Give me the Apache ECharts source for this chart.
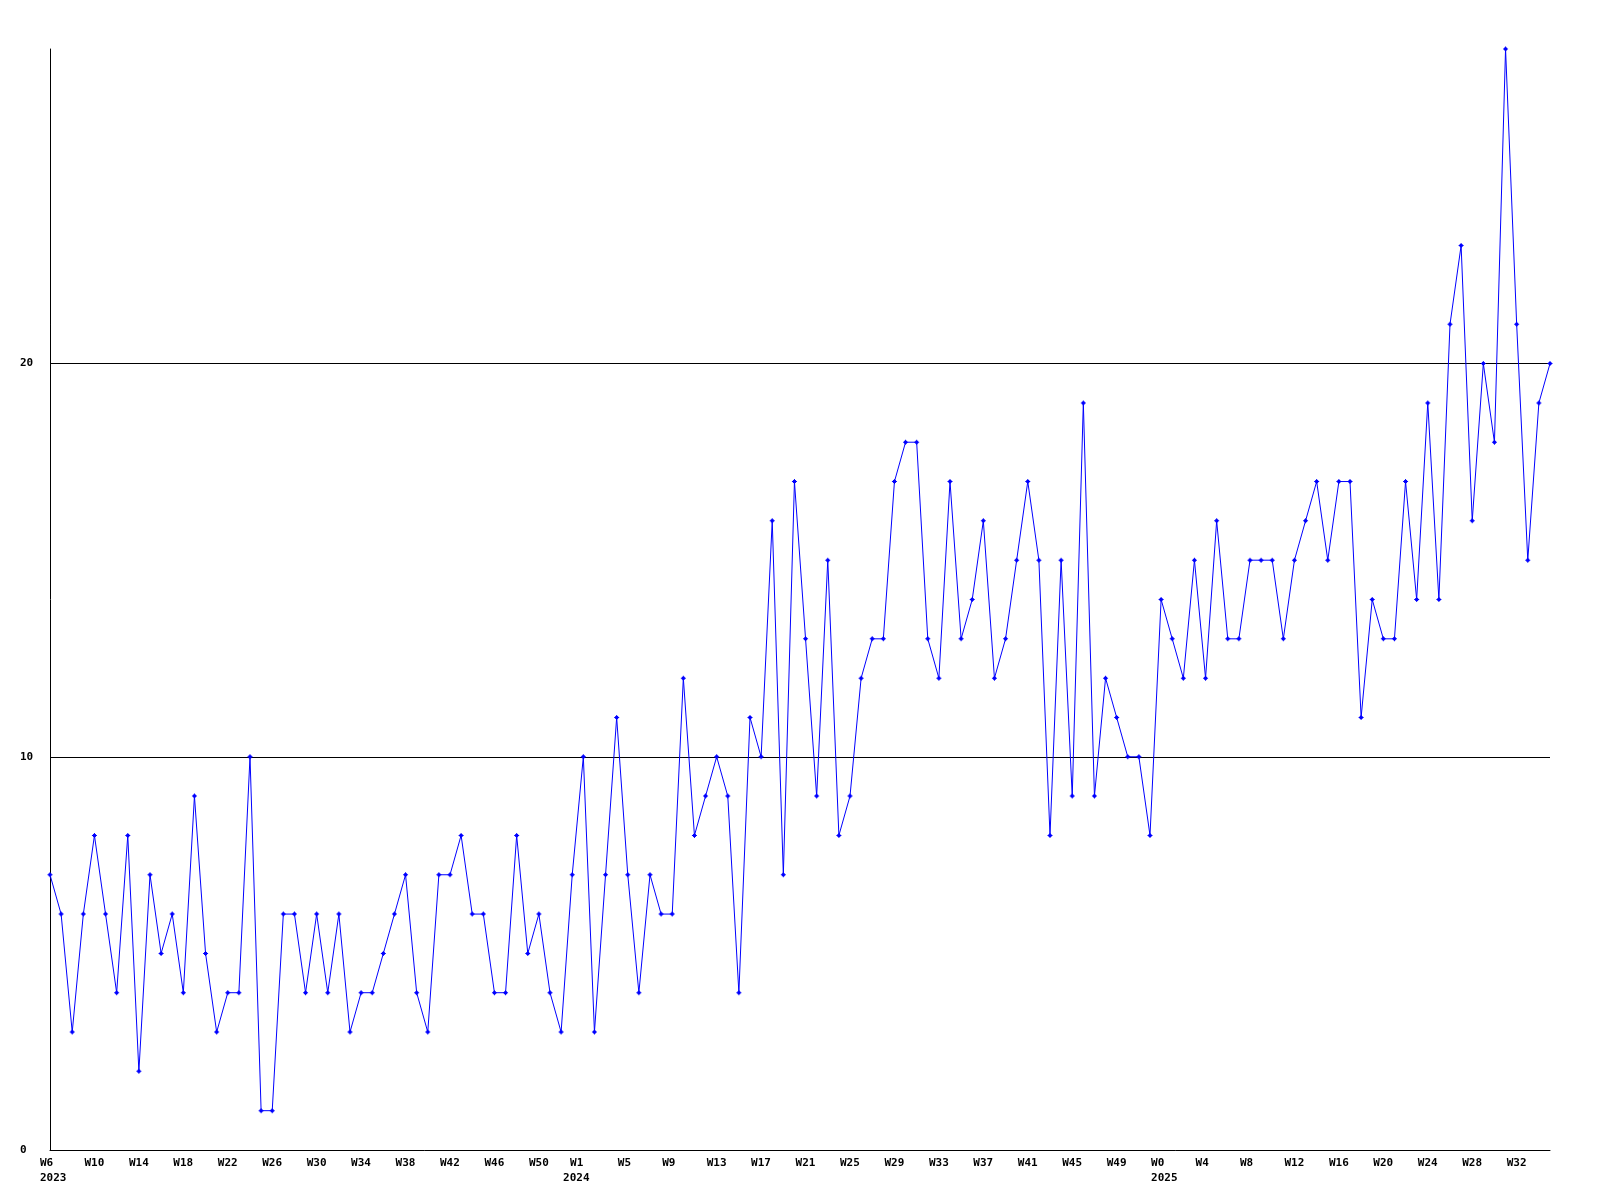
<!DOCTYPE html>
<html>
<head>
<meta charset="utf-8">
<script src="https://cdn.jsdelivr.net/npm/echarts@6/dist/echarts.min.js"></script>
<style>
  html, body { margin: 0; padding: 0; background: #fff; }
  #chart { width: 1600px; height: 1200px; }
</style>
</head>
<body>
<div id="chart"></div>
<script>
// Weekly counts, 2023 W6 .. 2025 W35
const values2023 = [7, 6, 3, 6, 8, 6, 4, 8, 2, 7, 5, 6, 4, 9, 5, 3, 4, 4, 10, 1, 1, 6, 6, 4, 6, 4, 6, 3, 4, 4, 5, 6,
                    7, 4, 3, 7, 7, 8, 6, 6, 4, 4, 8, 5, 6, 4, 3];
const values2024 = [7, 10, 3, 7, 11, 7, 4, 7, 6, 6, 12, 8, 9, 10, 9, 4, 11, 10,
                    16, 7, 17, 13, 9, 15, 8, 9, 12, 13, 13, 17, 18, 18, 13, 12, 17, 13, 14, 16, 12, 13, 15, 17, 15, 8, 15, 9, 19, 9, 12, 11, 10, 10, 8];
const values2025 = [14, 13, 12, 15, 12, 16, 13, 13, 15, 15, 15, 13, 15, 16, 17, 15, 17, 17, 11, 14, 13, 13, 17, 14, 19, 14, 21, 23, 16, 20, 18, 28, 21, 15, 19, 20];

// week ranges per year: [year, firstWeek, lastWeek]
const yearWeeks = [[2023, 6, 52], [2024, 0, 52], [2025, 0, 35]];

// labels shown every 4th week
const tickLabels = ['W6\n2023', 'W10', 'W14', 'W18', 'W22', 'W26', 'W30', 'W34', 'W38', 'W42', 'W46', 'W50',
                    'W1\n2024', 'W5', 'W9', 'W13', 'W17', 'W21', 'W25', 'W29', 'W33', 'W37', 'W41', 'W45', 'W49',
                    'W0\n2025', 'W4', 'W8', 'W12', 'W16', 'W20', 'W24', 'W28', 'W32'];

const yTicks = { min: 0, max: 28, interval: 10 };

const categories = [];
yearWeeks.forEach(([y, a, b]) => { for (let w = a; w <= b; w++) categories.push(y + ' W' + w); });
const values = values2023.concat(values2024, values2025);

const FONT = 'DejaVu Sans Mono';
const base = { fontFamily: FONT, fontSize: 11, fontWeight: 'bold', color: '#000', lineHeight: 15 };
const chart = echarts.init(document.getElementById('chart'), null, { renderer: 'canvas' });
chart.setOption({
  backgroundColor: '#ffffff',
  animation: false,
  grid: { left: 50, right: 50, top: 49, bottom: 50, containLabel: false },
  xAxis: {
    type: 'category',
    data: categories,
    boundaryGap: false,
    axisLine: { show: true, lineStyle: { color: '#000', width: 1 } },
    axisTick: { show: false },
    splitLine: { show: false },
    axisLabel: {
      interval: 3,
      margin: 6,
      align: 'center',
      formatter: (v, i) => {
        if (i % 4 !== 0) return '';
        const t = tickLabels[i / 4];
        if (!t) return '';
        const parts = t.split('\n');
        if (parts.length === 2 && parts[1] === '2024') {
          return '{c|' + parts[0] + '}\n{d|' + parts[1] + '}';
        }
        return parts.map(s => '{a|' + s + '}').join('\n');
      },
      rich: {
        a: Object.assign({ width: 20, align: 'left' }, base),
        c: Object.assign({ align: 'left', padding: [0, 0, 0, 7] }, base),
        d: Object.assign({ align: 'left', padding: [0, 14, 0, 0] }, base)
      }
    }
  },
  yAxis: {
    type: 'value',
    min: yTicks.min,
    max: yTicks.max,
    interval: yTicks.interval,
    axisLine: { show: true, lineStyle: { color: '#000', width: 1 } },
    axisTick: { show: false },
    splitLine: { show: true, showMinLine: false, showMaxLine: false, lineStyle: { color: '#000', width: 1 } },
    axisLabel: {
      showMaxLabel: false,
      align: 'left',
      margin: 30,
      fontFamily: FONT, fontSize: 11, fontWeight: 'bold', color: '#000'
    }
  },
  series: [{
    type: 'line',
    data: values,
    symbol: 'path://M2,0H3V1H4V2H5V3H4V4H3V5H2V4H1V3H0V2H1V1H2Z',
    symbolSize: 5,
    showAllSymbol: true,
    lineStyle: { color: '#0000ff', width: 1 },
    itemStyle: { color: '#0000ff' },
    emphasis: { disabled: true }
  }]
});
</script>
</body>
</html>
